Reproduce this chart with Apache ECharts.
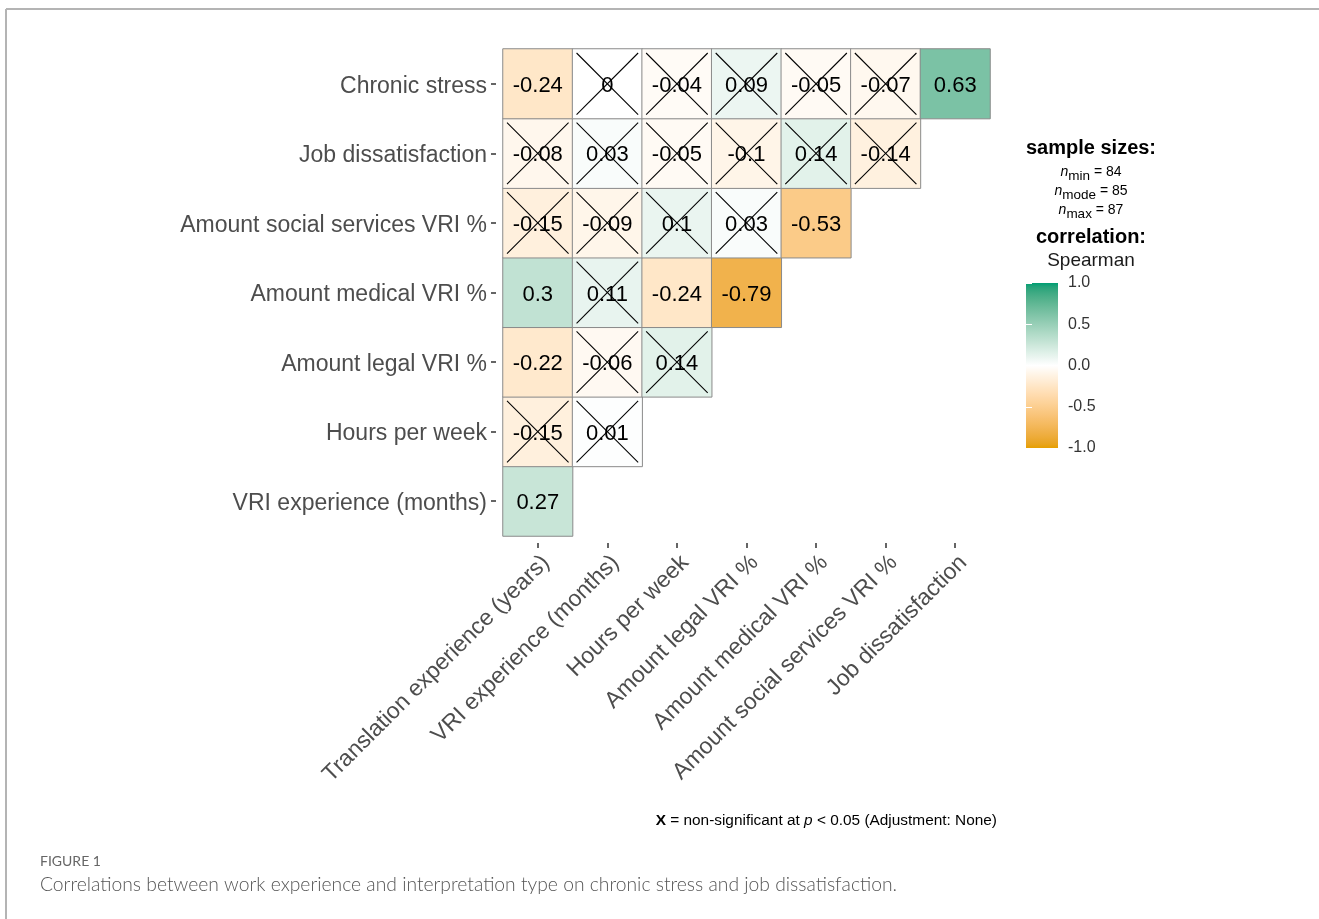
<!DOCTYPE html>
<html>
<head>
<meta charset="utf-8">
<script src="https://cdn.jsdelivr.net/npm/echarts@6/dist/echarts.min.js"></script>
<style>
  html, body { margin: 0; padding: 0; background: #fff; }
  #chart { width: 1319px; height: 919px; }
</style>
</head>
<body>
<div id="chart"></div>
<script>
// Variables on the x axis (left to right)
const colLabels = [
  'Translation experience (years)',
  'VRI experience (months)',
  'Hours per week',
  'Amount legal VRI %',
  'Amount medical VRI %',
  'Amount social services VRI %',
  'Job dissatisfaction'
];
// Variables on the y axis (bottom to top)
const rowLabels = [
  'VRI experience (months)',
  'Hours per week',
  'Amount legal VRI %',
  'Amount medical VRI %',
  'Amount social services VRI %',
  'Job dissatisfaction',
  'Chronic stress'
];

// Spearman correlations, one array per row (x order as in colLabels)
const rVriExperience   = [0.27];
const rHoursPerWeek    = [-0.15, 0.01];
const rLegalVri        = [-0.22, -0.06, 0.14];
const rMedicalVri      = [0.3, 0.11, -0.24, -0.79];
const rSocialVri       = [-0.15, -0.09, 0.1, 0.03, -0.53];
const rJobDissat       = [-0.08, 0.03, -0.05, -0.1, 0.14, -0.14];
const rChronicStress   = [-0.24, 0, -0.04, 0.09, -0.05, -0.07, 0.63];

// 1 = non-significant at p < 0.05 (drawn with a cross)
const nsVriExperience  = [0];
const nsHoursPerWeek   = [1, 1];
const nsLegalVri       = [0, 1, 1];
const nsMedicalVri     = [0, 1, 0, 0];
const nsSocialVri      = [1, 1, 1, 1, 0];
const nsJobDissat      = [1, 1, 1, 1, 1, 1];
const nsChronicStress  = [0, 1, 1, 1, 1, 1, 0];

const legendTicks = [-1, -0.5, 0, 0.5, 1];

const rowValues = [rVriExperience, rHoursPerWeek, rLegalVri, rMedicalVri, rSocialVri, rJobDissat, rChronicStress];
const rowNs = [nsVriExperience, nsHoursPerWeek, nsLegalVri, nsMedicalVri, nsSocialVri, nsJobDissat, nsChronicStress];

const cells = [];
const crosses = [];
rowValues.forEach((vals, yi) => {
  vals.forEach((v, xi) => {
    cells.push([xi, yi, v]);
    if (rowNs[yi][xi]) crosses.push([xi, yi]);
  });
});

// Diverging palette interpolated in CIE Lab: orange - white - green
function srgbToLin(c) { c /= 255; return c <= 0.04045 ? c / 12.92 : Math.pow((c + 0.055) / 1.055, 2.4); }
function linToSrgb(c) { const v = c <= 0.0031308 ? 12.92 * c : 1.055 * Math.pow(c, 1 / 2.4) - 0.055; return Math.max(0, Math.min(255, Math.round(v * 255))); }
function hexToLab(hex) {
  const r = srgbToLin(parseInt(hex.slice(1, 3), 16));
  const g = srgbToLin(parseInt(hex.slice(3, 5), 16));
  const b = srgbToLin(parseInt(hex.slice(5, 7), 16));
  let X = (0.4124 * r + 0.3576 * g + 0.1805 * b) / 0.95047;
  let Y = (0.2126 * r + 0.7152 * g + 0.0722 * b);
  let Z = (0.0193 * r + 0.1192 * g + 0.9505 * b) / 1.08883;
  const f = t => t > 0.008856 ? Math.cbrt(t) : (7.787 * t + 16 / 116);
  const fx = f(X), fy = f(Y), fz = f(Z);
  return [116 * fy - 16, 500 * (fx - fy), 200 * (fy - fz)];
}
function labToHex(L, a, bb) {
  const fy = (L + 16) / 116, fx = fy + a / 500, fz = fy - bb / 200;
  const fi = t => t > 0.206893 ? t * t * t : (t - 16 / 116) / 7.787;
  const X = fi(fx) * 0.95047, Y = fi(fy), Z = fi(fz) * 1.08883;
  const r = 3.2406 * X - 1.5372 * Y - 0.4986 * Z;
  const g = -0.9689 * X + 1.8758 * Y + 0.0415 * Z;
  const b = 0.0557 * X - 0.2040 * Y + 1.0570 * Z;
  return '#' + [r, g, b].map(c => linToSrgb(c).toString(16).padStart(2, '0')).join('');
}
const lowLab = hexToLab('#E69F00'), midLab = hexToLab('#FFFFFF'), highLab = hexToLab('#009E73');
const palette = [];
const steps = 40;
for (let i = 0; i <= steps; i++) {
  const t = -1 + 2 * i / steps;
  const end = t < 0 ? lowLab : highLab;
  const k = Math.abs(t);
  palette.push(labToHex(
    midLab[0] + (end[0] - midLab[0]) * k,
    midLab[1] + (end[1] - midLab[1]) * k,
    midLab[2] + (end[2] - midLab[2]) * k
  ));
}

const axisFont = 'Liberation Sans, Arial, sans-serif';
const chart = echarts.init(document.getElementById('chart'));

chart.setOption({
  backgroundColor: '#ffffff',
  animation: false,
  grid: [
    { left: 503, top: 49, width: 487, height: 487 },
    { left: 1026, top: 283, width: 32, height: 165 }
  ],
  xAxis: [
    {
      type: 'category', data: colLabels, gridIndex: 0, position: 'bottom', offset: 7,
      axisLine: { show: false },
      axisTick: { show: true, length: 5, alignWithLabel: true, lineStyle: { color: '#333333', width: 1.5 } },
      axisLabel: {
        interval: 0, rotate: 45, margin: 8, fontSize: 23, color: '#4d4d4d', fontFamily: axisFont,
        verticalAlign: 'top'
      },
      splitLine: { show: false }
    },
    { type: 'value', gridIndex: 1, min: 0, max: 1, show: false }
  ],
  yAxis: [
    {
      type: 'category', data: rowLabels, gridIndex: 0, offset: 7,
      axisLine: { show: false },
      axisTick: { show: true, length: 5, alignWithLabel: true, lineStyle: { color: '#333333', width: 1.5 } },
      axisLabel: {
        interval: 0, margin: 9,
        formatter: v => '{a|' + v + '}',
        rich: { a: { fontSize: 23, color: '#4d4d4d', fontFamily: axisFont, padding: [5, 0, 0, 0] } }
      },
      splitLine: { show: false }
    },
    {
      type: 'value', gridIndex: 1, min: legendTicks[0], max: legendTicks[legendTicks.length - 1], interval: 0.5,
      position: 'right', z: 10,
      axisLine: { show: false },
      axisTick: { show: true, inside: true, length: 6, lineStyle: { color: '#ffffff', width: 1 } },
      axisLabel: { margin: 10, fontSize: 16, color: '#333333', fontFamily: axisFont, formatter: v => v.toFixed(1) },
      splitLine: { show: false }
    },
    {
      type: 'value', gridIndex: 1, min: legendTicks[0], max: legendTicks[legendTicks.length - 1], interval: 0.5,
      position: 'left', z: 10,
      axisLine: { show: false },
      axisTick: { show: true, inside: true, length: 6, lineStyle: { color: '#ffffff', width: 1 } },
      axisLabel: { show: false },
      splitLine: { show: false }
    }
  ],
  visualMap: {
    show: false, type: 'continuous', min: -1, max: 1, dimension: 2, seriesIndex: 0,
    inRange: { color: palette }
  },
  series: [
    {
      type: 'heatmap', xAxisIndex: 0, yAxisIndex: 0, data: cells,
      itemStyle: { borderColor: '#8a8a8a', borderWidth: 1 },
      label: {
        show: true, fontSize: 22, color: '#000000', fontFamily: axisFont, offset: [0, 2],
        formatter: p => String(p.value[2])
      },
      emphasis: { disabled: true }
    },
    {
      type: 'custom', xAxisIndex: 0, yAxisIndex: 0, data: crosses, z: 5,
      renderItem: (params, api) => {
        const c = api.coord([api.value(0), api.value(1)]);
        const s = api.size([1, 1]);
        const hw = s[0] / 2 - 4, hh = s[1] / 2 - 4;
        const style = { stroke: '#000000', lineWidth: 1.1 };
        return {
          type: 'group',
          children: [
            { type: 'line', shape: { x1: c[0] - hw, y1: c[1] - hh, x2: c[0] + hw, y2: c[1] + hh }, style },
            { type: 'line', shape: { x1: c[0] - hw, y1: c[1] + hh, x2: c[0] + hw, y2: c[1] - hh }, style }
          ]
        };
      }
    },
    {
      // colour bar of the legend
      type: 'custom', xAxisIndex: 1, yAxisIndex: 1, data: [[0, 0]], z: 2,
      renderItem: (params, api) => {
        const tl = api.coord([0, 1]);
        const br = api.coord([1, -1]);
        const stops = palette.map((c, i) => ({ offset: 1 - i / (palette.length - 1), color: c })).reverse();
        return {
          type: 'rect',
          shape: { x: tl[0], y: tl[1], width: br[0] - tl[0], height: br[1] - tl[1] },
          style: { fill: new echarts.graphic.LinearGradient(0, 0, 0, 1, stops) }
        };
      }
    }
  ],
  graphic: [
    // figure frame
    { type: 'line', shape: { x1: 6, y1: 9, x2: 1319, y2: 9 }, style: { stroke: '#b4b4b4', lineWidth: 2 } },
    { type: 'line', shape: { x1: 6, y1: 9, x2: 6, y2: 919 }, style: { stroke: '#b4b4b4', lineWidth: 2 } },
    // legend headings
    {
      type: 'text', x: 1091, y: 138, style: {
        text: 'sample sizes:', align: 'center',
        font: 'bold 20px Liberation Sans, Arial, sans-serif', fill: '#000000'
      }
    },
    {
      type: 'text', x: 1091, y: 163, style: {
        text: '{i|n}{s|min}{t| = 84}\n{i|n}{s|mode}{t| = 85}\n{i|n}{s|max}{t| = 87}',
        align: 'center',
        rich: {
          i: { fontSize: 14, fontStyle: 'italic', fontFamily: axisFont, fill: '#000', lineHeight: 19, verticalAlign: 'middle' },
          s: { fontSize: 13.5, fontFamily: axisFont, fill: '#000', lineHeight: 19, padding: [8, 0, 0, 0], verticalAlign: 'middle' },
          t: { fontSize: 14, fontFamily: axisFont, fill: '#000', lineHeight: 19, verticalAlign: 'middle' }
        }
      }
    },
    {
      type: 'text', x: 1091, y: 227, style: {
        text: 'correlation:', align: 'center',
        font: 'bold 20px Liberation Sans, Arial, sans-serif', fill: '#000000'
      }
    },
    {
      type: 'text', x: 1091, y: 251, style: {
        text: 'Spearman', align: 'center',
        font: '19px Liberation Sans, Arial, sans-serif', fill: '#1a1a1a'
      }
    },
    // significance note
    {
      type: 'text', x: 997, y: 813, style: {
        text: '{b|X}{t| = non-significant at }{i|p}{t| < 0.05 (Adjustment: None)}',
        align: 'right',
        rich: {
          b: { fontSize: 15.4, fontWeight: 'bold', fontFamily: axisFont, fill: '#000' },
          i: { fontSize: 15.4, fontStyle: 'italic', fontFamily: axisFont, fill: '#000' },
          t: { fontSize: 15.4, fontFamily: axisFont, fill: '#000' }
        }
      }
    },
    // caption
    {
      type: 'text', x: 40, y: 854, style: {
        text: 'FIGURE 1', font: '14px Lato, Open Sans, sans-serif', fill: '#666666'
      }
    },
    {
      type: 'text', x: 40, y: 875, style: {
        text: 'Correlations between work experience and interpretation type on chronic stress and job dissatisfaction.',
        font: '300 19.3px Lato, Open Sans, sans-serif', fill: '#555555'
      }
    }
  ]
});
</script>
</body>
</html>
